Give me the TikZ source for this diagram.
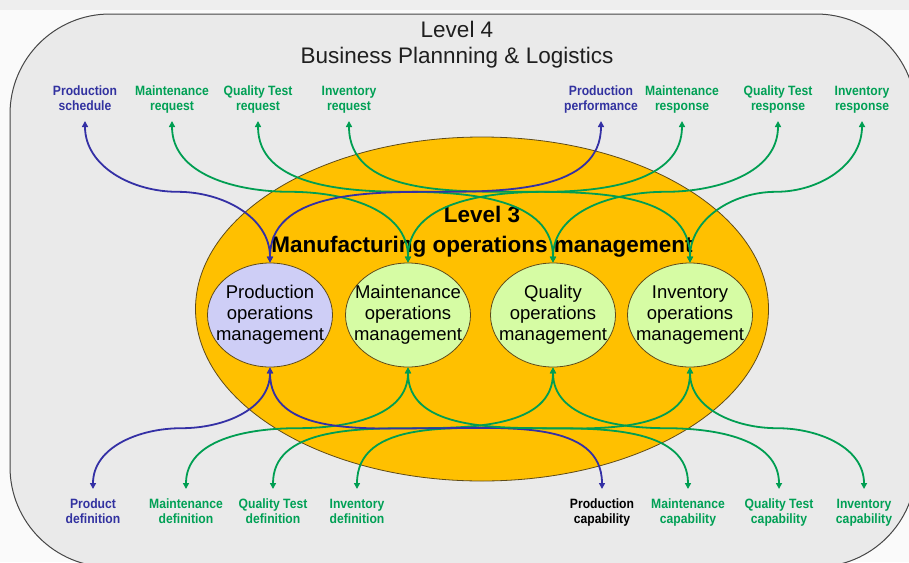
\documentclass[tikz,border=0pt]{standalone}
\usepackage{fontspec}
\setmainfont{Liberation Sans}
\newfontfamily\tagfont[FakeStretch=0.9]{Liberation Sans}
\usetikzlibrary{shapes.geometric,arrows.meta,calc}

\definecolor{pageback}{RGB}{250,250,250}
\definecolor{topband}{RGB}{238,238,238}
\definecolor{panel}{RGB}{234,234,234}
\definecolor{panelline}{RGB}{70,70,70}
\definecolor{mom}{RGB}{255,192,0}
\definecolor{momline}{RGB}{95,75,25}
\definecolor{prodfill}{RGB}{206,206,246}
\definecolor{opfill}{RGB}{214,252,164}
\definecolor{flowblue}{RGB}{52,48,165}
\definecolor{flowgreen}{RGB}{0,158,82}
\definecolor{tagblue}{RGB}{50,50,160}
\definecolor{taggreen}{RGB}{0,160,85}

% two-line caption set as a fixed-height tabular (15pt per row)
\newcommand\twolines[2]{\begin{tabular}{@{}c@{}}#1\\#2\end{tabular}}

\begin{document}
\begin{tikzpicture}[x=1pt,y=-1pt,
  flow/.style={line width=1.8pt,{Triangle[length=6pt,width=6pt]}-{Triangle[length=6pt,width=6pt]}},
  blueflow/.style={flow,draw=flowblue},
  greenflow/.style={flow,draw=flowgreen},
  tagbase/.style={inner xsep=0pt,font=\tagfont\bfseries\fontsize{13.5}{15}\selectfont},
  toptag/.style={tagbase,anchor=south,inner ysep=5.5pt},
  bottag/.style={tagbase,anchor=north,inner ysep=8.5pt},
  opnode/.style={ellipse,draw=momline,line width=0.8pt,minimum width=125pt,
    minimum height=104pt,inner sep=0pt,
    label={[align=center,inner sep=0pt,font=\fontsize{18.5}{21}\selectfont]center:#1}},
]
\useasboundingbox (0,0) rectangle (909,562);
\clip (0,0) rectangle (909,562);

% page and Level 4 panel
\fill[pageback] (0,0) rectangle (909,562);
\fill[topband] (0,0) rectangle (909,10);
\draw[panelline,fill=panel,line width=1pt,rounded corners=100pt] (10,14) rectangle (916,567);
\node[align=center,text=black!88,font=\fontsize{22.5}{26}\selectfont] (l4title) at (457,44.3)
  {Level 4\\Business Plannning \& Logistics};

% Level 3 ellipse and its four activities
\node[ellipse,draw=momline,line width=0.8pt,fill=mom,minimum width=573pt,minimum height=344pt] (l3) at (482,309) {};
\node[align=center,font=\bfseries\fontsize{22.5}{30}\selectfont] (l3title) at (482,232)
  {Level 3\\Manufacturing operations management};

\node[opnode={Production\\operations\\management},fill=prodfill] (pom) at (270,315) {};
\node[opnode={Maintenance\\operations\\management},fill=opfill]  (mom) at (408,315) {};
\node[opnode={Quality\\operations\\management},fill=opfill]      (qom) at (553,315) {};
\node[opnode={Inventory\\operations\\management},fill=opfill]    (iom) at (690,315) {};

% Level 4 information (top row)
\node[toptag,text=tagblue]  (psch) at (85,121)  {\twolines{Production}{schedule}};
\node[toptag,text=taggreen] (mreq) at (172,121) {\twolines{Maintenance}{request}};
\node[toptag,text=taggreen] (qreq) at (258,121) {\twolines{Quality Test}{request}};
\node[toptag,text=taggreen] (ireq) at (349,121) {\twolines{Inventory}{request}};
\node[toptag,text=tagblue]  (pperf) at (601,121) {\twolines{Production}{performance}};
\node[toptag,text=taggreen] (mres) at (682,121) {\twolines{Maintenance}{response}};
\node[toptag,text=taggreen] (qres) at (778,121) {\twolines{Quality Test}{response}};
\node[toptag,text=taggreen] (ires) at (862,121) {\twolines{Inventory}{response}};

% Level 4 information (bottom row)
\node[bottag,text=tagblue]  (pdef) at (93,489)  {\twolines{Product}{definition}};
\node[bottag,text=taggreen] (mdef) at (186,489) {\twolines{Maintenance}{definition}};
\node[bottag,text=taggreen] (qdef) at (273,489) {\twolines{Quality Test}{definition}};
\node[bottag,text=taggreen] (idef) at (357,489) {\twolines{Inventory}{definition}};
\node[bottag,text=black]    (pcap) at (602,489) {\twolines{Production}{capability}};
\node[bottag,text=taggreen] (mcap) at (688,489) {\twolines{Maintenance}{capability}};
\node[bottag,text=taggreen] (qcap) at (779,489) {\twolines{Quality Test}{capability}};
\node[bottag,text=taggreen] (icap) at (864,489) {\twolines{Inventory}{capability}};

% top exchanges: S-curves from each caption to the top of its activity
\draw[blueflow]  (psch.south) to[out=-90,in=180] ($(psch.south)!.5!(pom.north)$) to[out=0,in=90] (pom.north);
\draw[greenflow] (mreq.south) to[out=-90,in=180] ($(mreq.south)!.5!(mom.north)$) to[out=0,in=90] (mom.north);
\draw[greenflow] (qreq.south) to[out=-90,in=180] ($(qreq.south)!.5!(qom.north)$) to[out=0,in=90] (qom.north);
\draw[greenflow] (ireq.south) to[out=-90,in=180] ($(ireq.south)!.5!(iom.north)$) to[out=0,in=90] (iom.north);
\draw[blueflow]  (pperf.south) to[out=-90,in=0] ($(pperf.south)!.5!(pom.north)$) to[out=180,in=90] (pom.north);
\draw[greenflow] (mres.south) to[out=-90,in=0] ($(mres.south)!.5!(mom.north)$) to[out=180,in=90] (mom.north);
\draw[greenflow] (qres.south) to[out=-90,in=0] ($(qres.south)!.5!(qom.north)$) to[out=180,in=90] (qom.north);
\draw[greenflow] (ires.south) to[out=-90,in=0] ($(ires.south)!.5!(iom.north)$) to[out=180,in=90] (iom.north);

% bottom exchanges
\draw[blueflow]  (pdef.north) to[out=90,in=180] ($(pdef.north)!.5!(pom.south)$) to[out=0,in=-90] (pom.south);
\draw[greenflow] (mdef.north) to[out=90,in=180] ($(mdef.north)!.5!(mom.south)$) to[out=0,in=-90] (mom.south);
\draw[greenflow] (qdef.north) to[out=90,in=180] ($(qdef.north)!.5!(qom.south)$) to[out=0,in=-90] (qom.south);
\draw[greenflow] (idef.north) to[out=90,in=180] ($(idef.north)!.5!(iom.south)$) to[out=0,in=-90] (iom.south);
\draw[blueflow]  (pcap.north) to[out=90,in=0] ($(pcap.north)!.5!(pom.south)$) to[out=180,in=-90] (pom.south);
\draw[greenflow] (mcap.north) to[out=90,in=0] ($(mcap.north)!.5!(mom.south)$) to[out=180,in=-90] (mom.south);
\draw[greenflow] (qcap.north) to[out=90,in=0] ($(qcap.north)!.5!(qom.south)$) to[out=180,in=-90] (qom.south);
\draw[greenflow] (icap.north) to[out=90,in=0] ($(icap.north)!.5!(iom.south)$) to[out=180,in=-90] (iom.south);
\end{tikzpicture}
\end{document}
